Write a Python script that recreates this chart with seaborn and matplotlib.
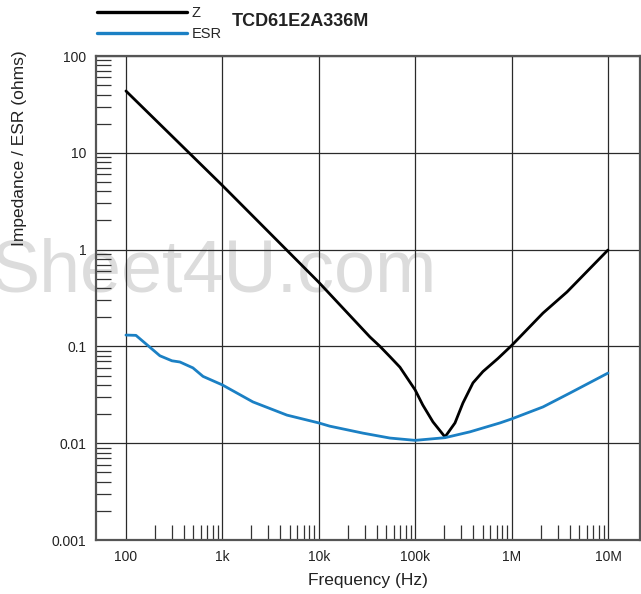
import numpy as np
import pandas as pd
import matplotlib
matplotlib.use("Agg")
import matplotlib.pyplot as plt
from matplotlib.ticker import FixedLocator, NullFormatter
import seaborn as sns

# ---- data ----
part_name = "TCD61E2A336M"

z_freq = [100, 1000, 10000, 34000, 43200, 55000, 69500, 100000, 120000,
          153000, 204000, 259000, 313000, 398000, 505000, 722000, 1000000,
          2120000, 3760000, 10000000]
z_vals = [43.5, 4.6, 0.46, 0.125, 0.1, 0.078, 0.061, 0.0355, 0.0248,
          0.0166, 0.0116, 0.0162, 0.026, 0.042, 0.055, 0.075, 0.102,
          0.221, 0.365, 0.99]

esr_freq = [100, 127, 225, 300, 363, 495, 630, 1000, 2075, 4680, 10000,
            13000, 28800, 54800, 100000, 204000, 370000, 759000, 1000000,
            2120000, 4040000, 10000000]
esr_vals = [0.131, 0.130, 0.080, 0.071, 0.069, 0.060, 0.049, 0.040, 0.0267,
            0.0195, 0.0162, 0.015, 0.0127, 0.0113, 0.0107, 0.0114, 0.0131,
            0.0162, 0.0178, 0.0237, 0.033, 0.053]

x_ticks = [100, 1000, 10000, 100000, 1000000, 10000000]
x_labels = ["100", "1k", "10k", "100k", "1M", "10M"]
y_ticks = [0.001, 0.01, 0.1, 1, 10, 100]
y_labels = ["0.001", "0.01", "0.1", "1", "10", "100"]

z_df = pd.DataFrame({"Frequency": z_freq, "Value": z_vals})
esr_df = pd.DataFrame({"Frequency": esr_freq, "Value": esr_vals})

# ---- style ----
sns.set_theme(style="white")
plt.rcParams["font.family"] = ["Liberation Sans", "DejaVu Sans"]

W, H = 641, 594
fig = plt.figure(figsize=(W / 100, H / 100), dpi=100)
ax = fig.add_axes([96 / W, 1 - 540 / H, 544 / W, 484 / H])
ax.patch.set_facecolor("none")

# watermark behind everything
fig.text(437 / W, 1 - 292 / H, "Sheet4U.com", ha="right", va="baseline",
         fontsize=53, color="#dcdcdc", zorder=-1)

sns.lineplot(data=z_df, x="Frequency", y="Value", ax=ax, color="black",
             lw=2.0, label="Z", zorder=3)
sns.lineplot(data=esr_df, x="Frequency", y="Value", ax=ax, color="#1b80c4",
             lw=2.0, label="ESR", zorder=3)

ax.set_xscale("log")
ax.set_yscale("log")
ax.set_xlim(48.9, 2.15e7)
ax.set_ylim(0.001, 100)

ax.set_xticks(x_ticks, x_labels)
ax.set_yticks(y_ticks, y_labels)
x_minor = [m * d for d in [100, 1000, 10000, 100000, 1000000] for m in range(2, 10)]
y_minor = [m * d for d in [0.001, 0.01, 0.1, 1, 10] for m in range(2, 10)]
ax.xaxis.set_minor_locator(FixedLocator(x_minor))
ax.yaxis.set_minor_locator(FixedLocator(y_minor))
ax.xaxis.set_minor_formatter(NullFormatter())
ax.yaxis.set_minor_formatter(NullFormatter())

ax.tick_params(which="major", length=0, labelsize=10, colors="#222222")
ax.tick_params(axis="x", which="major", pad=7)
ax.tick_params(axis="y", which="major", pad=7)
ax.tick_params(which="minor", direction="in", length=10.5, width=0.9,
               color="#333333")
ax.tick_params(axis="x", which="minor", bottom=True, top=False)
ax.tick_params(axis="y", which="minor", left=True, right=False)

ax.grid(True, which="major", color="#2a2a2a", lw=0.9)
for s in ax.spines.values():
    s.set_color("#555555")
    s.set_linewidth(1.6)

ax.set_xlabel("")
ax.set_ylabel("")
fig.text(368 / W, 1 - 580 / H, "Frequency (Hz)", ha="center", va="center",
         fontsize=12.5, color="#222222")
fig.text(20 / W, 1 - 148 / H, "Impedance / ESR (ohms)", ha="center",
         va="center", rotation=90, fontsize=12.5, color="#222222")

# legend + part number on top
leg = ax.legend(loc="upper left", bbox_to_anchor=(97 / W, 1 - 6 / H),
                bbox_transform=fig.transFigure, frameon=False, fontsize=10.5,
                handlelength=6.2, handletextpad=0.3, labelspacing=0.5,
                borderpad=0, borderaxespad=0)
for ln in leg.get_lines():
    ln.set_linewidth(2.4)
fig.text(232 / W, 1 - 22 / H, part_name, ha="left", va="center",
         fontsize=13, fontweight="bold", color="#222222")

fig.savefig("out.png", dpi=100)
